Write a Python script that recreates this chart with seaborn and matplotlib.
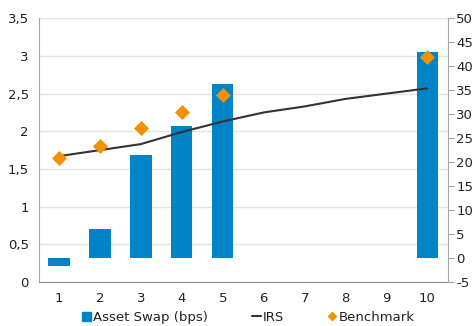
import matplotlib
matplotlib.use("Agg")
import matplotlib.pyplot as plt
import seaborn as sns
import pandas as pd
import numpy as np
from matplotlib.lines import Line2D
from matplotlib.patches import Patch

# Maturities (years)
years = ["1", "2", "3", "4", "5", "6", "7", "8", "9", "10"]
# Asset swap spread in bps (right axis); NaN where no bond
asset_swap = [-1.6, 6.0, 21.5, 27.6, 36.2, np.nan, np.nan, np.nan, np.nan, 43.0]
# IRS curve (left axis, %)
irs = [1.67, 1.75, 1.83, 1.99, 2.13, 2.25, 2.33, 2.43, 2.50, 2.57]
# Benchmark yields (left axis, %)
benchmark = [1.64, 1.80, 2.05, 2.26, 2.48, np.nan, np.nan, np.nan, np.nan, 2.99]

left_ticks = [0, 0.5, 1, 1.5, 2, 2.5, 3, 3.5]
left_labels = ["0", "0,5", "1", "1,5", "2", "2,5", "3", "3,5"]
right_ticks = [-5, 0, 5, 10, 15, 20, 25, 30, 35, 40, 45, 50]

df = pd.DataFrame({"year": years, "asw": asset_swap, "irs": irs, "bench": benchmark})

BLUE = "#0084C8"
ORANGE = "#F39200"
LINE = "#333333"
SPINE = "#A6A6A6"
GRID = "#E3E3E3"
TEXT = "#222222"

sns.set_style("white")
plt.rcParams["font.family"] = ["DejaVu Sans"]
plt.rcParams["font.size"] = 9.5

fig = plt.figure(figsize=(4.73, 3.26), dpi=100)
ax = fig.add_axes([0.0814, 0.135, 0.947 - 0.0814, 0.944 - 0.135])

# base axis: left scale + grid
ax.set_xlim(-0.5, 9.5)
ax.set_ylim(0, 3.5)
ax.set_yticks(left_ticks)
ax.set_yticklabels(left_labels, color=TEXT)
for y in left_ticks:
    ax.axhline(y, color=GRID, lw=1.0, zorder=0)

# bars on the right (bps) scale
ax2 = ax.twinx()
sns.barplot(data=df, x="year", y="asw", color=BLUE, width=0.52, saturation=1,
            linewidth=0, ax=ax2, zorder=2)
ax2.set_xlim(-0.5, 9.5)
ax2.set_ylim(-5, 50)
ax2.set_yticks(right_ticks)
ax2.set_yticklabels([str(t) for t in right_ticks], color=TEXT)
ax2.set_ylabel("")
ax2.set_xlabel("")

# top layer: IRS line and benchmark markers on the left scale
ax3 = ax.twinx()
xpos = np.arange(len(years))
sns.lineplot(x=xpos, y=df["irs"], color=LINE, lw=1.5, ax=ax3)
sns.scatterplot(x=xpos, y=df["bench"], marker="D", s=50, color=ORANGE,
                edgecolor=ORANGE, ax=ax3, zorder=5)
ax3.set_ylim(0, 3.5)
ax3.set_xlim(-0.5, 9.5)
ax3.axis("off")

# x axis: category labels, ticks at category boundaries
ax.set_xticks(np.arange(-0.5, 10, 1.0), minor=False)
ax.set_xticklabels([""] * 11)
ax.set_xticks(xpos, minor=True)
ax.set_xticklabels(years, minor=True, color=TEXT)
ax.tick_params(axis="x", which="major", length=4, color=SPINE, direction="out")
ax.tick_params(axis="x", which="minor", length=0, pad=7)
ax.tick_params(axis="y", length=0, pad=7)
ax2.tick_params(axis="y", length=4, color=SPINE, direction="out", pad=2)
ax2.tick_params(axis="x", length=0)
ax2.set_xticks([])

for a in (ax, ax2):
    for s in a.spines.values():
        s.set_visible(False)
ax.spines["left"].set_visible(True)
ax.spines["left"].set_color(SPINE)
ax.spines["bottom"].set_visible(True)
ax.spines["bottom"].set_color("#8C8C8C")
ax2.spines["right"].set_visible(True)
ax2.spines["right"].set_color(SPINE)

handles = [
    Patch(facecolor=BLUE, edgecolor=BLUE),
    Line2D([0], [0], color=LINE, lw=1.5),
    Line2D([0], [0], marker="D", color=ORANGE, lw=0, markersize=4),
]
labels = ["Asset Swap (bps)", "IRS", "Benchmark"]
fig.legend(handles, labels, loc="lower center", bbox_to_anchor=(0.525, -0.03),
           ncol=3, frameon=False, handlelength=0.7, handletextpad=0.1,
           columnspacing=3.35, fontsize=9.5, labelcolor=TEXT)

fig.savefig("out.png", dpi=100)
